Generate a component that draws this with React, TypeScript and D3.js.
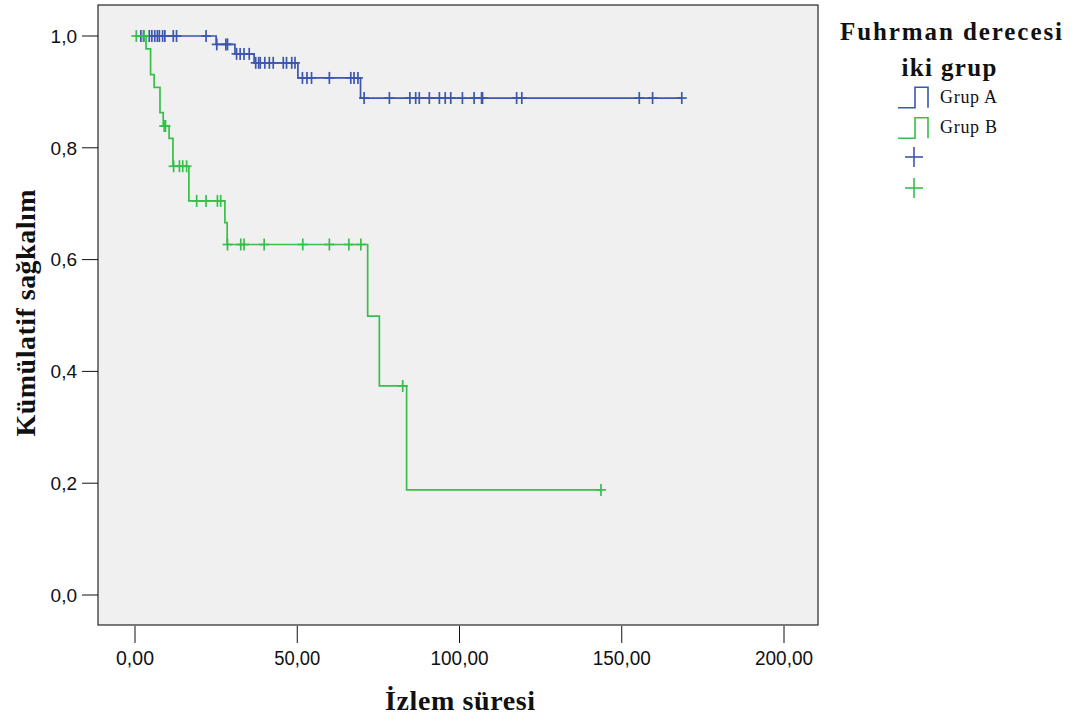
import * as d3 from "d3";

// Grup A (mavi) – olay zamanları ve kümülatif sağkalım
const groupATimes = [25.0, 30.8, 36.7, 50.2, 69.5];
const groupASurv = [0.985, 0.968, 0.952, 0.925, 0.889];
const groupACensored = [
  1.8, 2.6, 4.4, 5.2, 6.1, 6.9, 7.5, 8.5, 9.2, 11.8, 12.8, 21.9, 25.2, 28.0,
  28.5, 31.3, 32.4, 33.6, 35.2, 37.2, 38.1, 38.6, 40.0, 41.4, 42.6, 45.7, 46.7,
  48.3, 49.3, 51.6, 53.0, 54.4, 59.9, 66.5, 67.5, 68.7, 70.6, 78.4, 84.7, 86.5,
  87.6, 90.7, 93.8, 95.6, 97.3, 100.9, 104.5, 106.8, 107.1, 117.6, 119.2,
  155.4, 159.5, 168.5,
];

// Grup B (yeşil)
const groupBTimes = [3.4, 4.8, 5.9, 7.7, 8.7, 10.5, 11.7, 16.6, 27.7, 28.4, 71.7, 75.3, 83.7];
const groupBSurv = [0.977, 0.931, 0.908, 0.863, 0.839, 0.817, 0.767, 0.705, 0.666, 0.627, 0.499, 0.374, 0.188];
const groupBCensored = [
  0.4, 2.8, 9.0, 9.4, 11.9, 13.7, 14.7, 15.9, 19.0, 21.9, 25.4, 26.4, 28.5,
  32.6, 33.6, 39.8, 51.7, 59.9, 65.9, 69.6, 82.5, 143.6,
];

const xTicks = [0, 50, 100, 150, 200];
const yTicks = [0, 0.2, 0.4, 0.6, 0.8, 1.0];
const groupNames = ["Grup A", "Grup B"];

const BLUE = "#3d56ae";
const GREEN = "#38bf4b";
const SERIF = "'Liberation Serif', 'DejaVu Serif', serif";

const frame = { left: 98, top: 5, right: 818, bottom: 625 };

const x = d3.scaleLinear().domain([0, 200]).range([135, 784]);
const y = d3.scaleLinear().domain([0, 1]).range([595, 36]);

const stepLine = d3
  .line<[number, number]>()
  .x((d) => x(d[0]))
  .y((d) => y(d[1]))
  .curve(d3.curveStepAfter);

function survAt(times: number[], surv: number[], t: number) {
  let s = 1;
  times.forEach((ti, i) => {
    if (ti <= t) s = surv[i];
  });
  return s;
}

function Curve({ times, surv, censored, color }: { times: number[]; surv: number[]; censored: number[]; color: string }) {
  const end = d3.max(censored) as number;
  const pts: [number, number][] = [[0, 1]];
  times.forEach((t, i) => pts.push([t, surv[i]]));
  pts.push([Math.max(end, times[times.length - 1]), surv[surv.length - 1]]);
  return (
    <g stroke={color} fill="none" strokeWidth={1.7}>
      <path d={stepLine(pts) || ""} />
      {censored.map((t, i) => {
        const cx = x(t);
        const cy = y(survAt(times, surv, t));
        return (
          <g key={i}>
            <line x1={cx} x2={cx} y1={cy - 6} y2={cy + 6} />
            <line x1={cx - 5} x2={cx + 5} y1={cy} y2={cy} />
          </g>
        );
      })}
    </g>
  );
}

// etiket genişlikleri (dar yazı tipi taklidi)
const labelWidth: Record<number, number> = { 4: 38, 5: 46, 6: 58 };

export default function App() {
  return (
    <svg width={1075} height={720} style={{ position: "absolute", left: 0, top: 0, background: "#fff" }}>
      <rect
        x={frame.left}
        y={frame.top}
        width={frame.right - frame.left}
        height={frame.bottom - frame.top}
        fill="#f0f0f0"
        stroke="#262626"
        strokeWidth={1.2}
      />
      {yTicks.map((v) => (
        <g key={v}>
          <line x1={82} x2={frame.left} y1={y(v)} y2={y(v)} stroke="#111" />
          <text
            x={77}
            y={y(v)}
            dy="0.36em"
            textAnchor="end"
            fontFamily="'Liberation Sans', Arial, sans-serif"
            fontSize={19}
            fill="#111"
          >
            {d3.format(".1f")(v).replace(".", ",")}
          </text>
        </g>
      ))}
      {xTicks.map((v) => {
        const label = d3.format(".2f")(v).replace(".", ",");
        return (
          <g key={v}>
            <line x1={x(v)} x2={x(v)} y1={frame.bottom + 1} y2={643} stroke="#111" />
            <text
              x={x(v)}
              y={665}
              textAnchor="middle"
              fontFamily="'Liberation Sans Narrow', 'Liberation Sans', sans-serif"
              fontSize={20}
              textLength={labelWidth[label.length]}
              lengthAdjust="spacingAndGlyphs"
              fill="#111"
            >
              {label}
            </text>
          </g>
        );
      })}

      <Curve times={groupATimes} surv={groupASurv} censored={groupACensored} color={BLUE} />
      <Curve times={groupBTimes} surv={groupBSurv} censored={groupBCensored} color={GREEN} />

      <text x={460} y={710} textAnchor="middle" fontFamily={SERIF} fontWeight="bold" fontSize={28} textLength={150} fill="#111">
        İzlem süresi
      </text>
      <text
        transform="translate(35,313) rotate(-90)"
        textAnchor="middle"
        fontFamily={SERIF}
        fontWeight="bold"
        fontSize={28}
        textLength={247}
        fill="#111"
      >
        Kümülatif sağkalım
      </text>

      {/* legend */}
      <text x={951} y={40} textAnchor="middle" fontFamily={SERIF} fontWeight="bold" fontSize={25} textLength={222} fill="#111">
        Fuhrman derecesi
      </text>
      <text x={949} y={76} textAnchor="middle" fontFamily={SERIF} fontWeight="bold" fontSize={25} textLength={95} fill="#111">
        iki grup
      </text>
      {[BLUE, GREEN].map((c, i) => {
        const b = 107.7 + i * 30.6;
        const t = b - 20.5;
        return (
          <g key={c}>
            <path d={`M898,${b}H915V${t}H928V${b}`} fill="none" stroke={c} strokeWidth={1.6} />
            <text x={940} y={102.5 + i * 30} fontFamily={SERIF} fontSize={18} textLength={57} fill="#111">
              {groupNames[i]}
            </text>
            <line x1={914} x2={914} y1={147 + i * 31} y2={167 + i * 31} stroke={c} strokeWidth={1.6} />
            <line x1={905} x2={923} y1={157 + i * 31} y2={157 + i * 31} stroke={c} strokeWidth={1.6} />
          </g>
        );
      })}
    </svg>
  );
}
